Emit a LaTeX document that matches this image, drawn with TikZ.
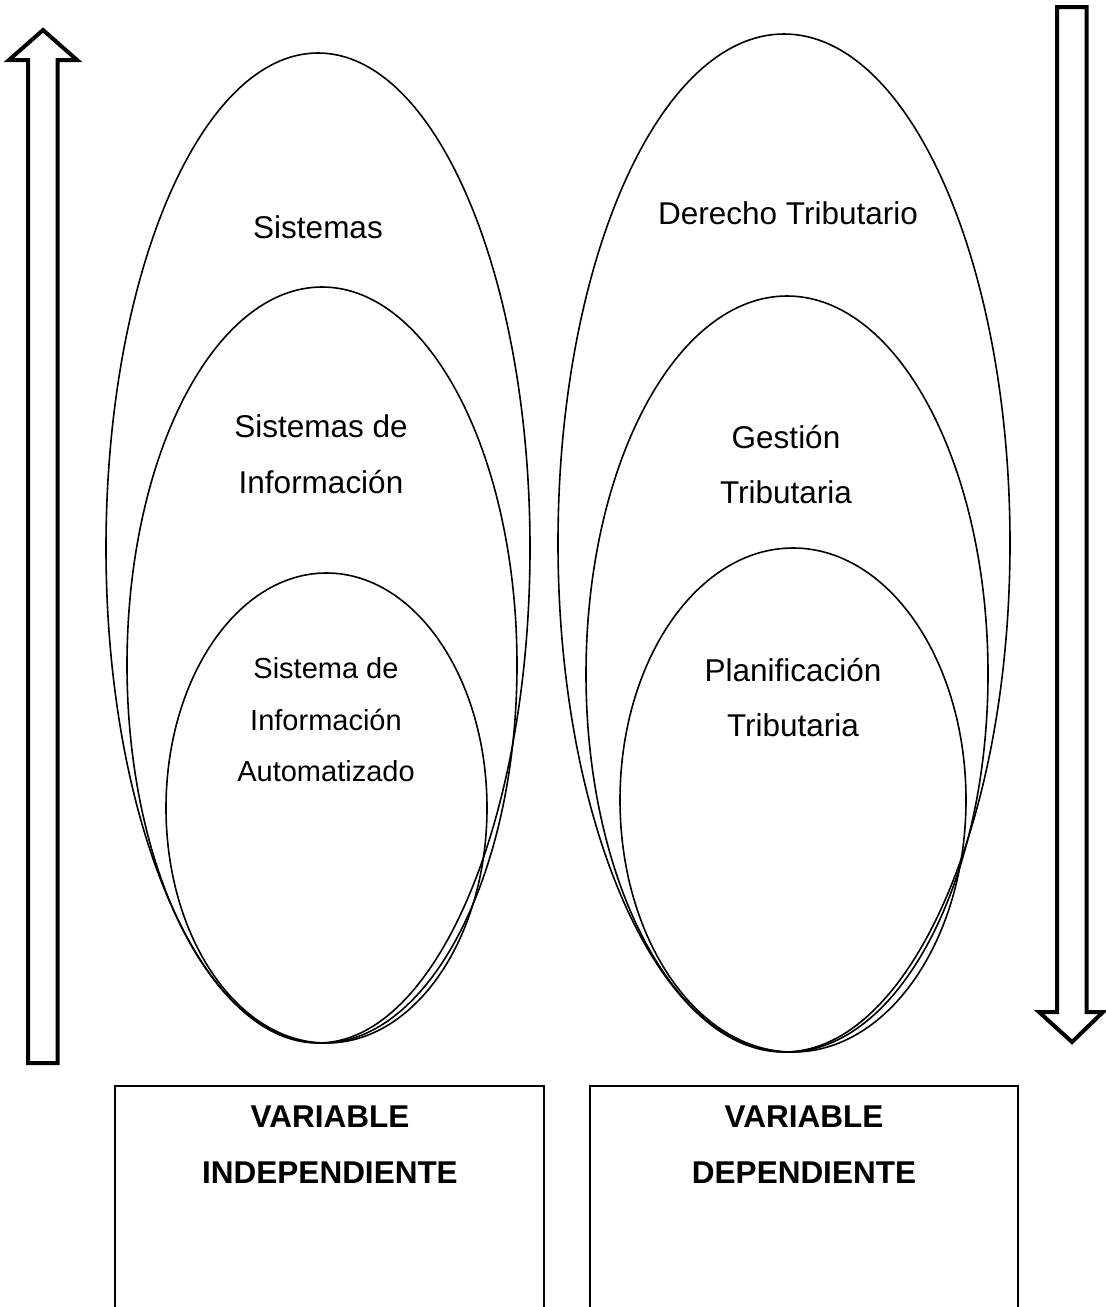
\documentclass[tikz,border=0pt]{standalone}
\usepackage{fontspec}
\setmainfont{Liberation Sans}
\usetikzlibrary{shapes.geometric}
\begin{document}
\begin{tikzpicture}[x=1pt,y=-1pt,
  oval/.style={draw,ellipse,line width=1.6pt,inner sep=0pt,outer sep=0pt},
  lbl/.style={anchor=base,inner sep=0pt,font=\fontsize{31.5}{38}\selectfont},
  lblsmall/.style={anchor=base,inner sep=0pt,font=\fontsize{29}{35}\selectfont},
  varlbl/.style={anchor=base,inner sep=0pt,font=\fontsize{31.5}{38}\selectfont\bfseries},
  hollowarrow/.style={draw,line width=4pt,line join=miter,fill=white},
  frame/.style={draw,line width=1.6pt}]
\useasboundingbox (0,0) rectangle (1106,1307);

% left column: nested ovals
\node[oval,minimum width=424pt,minimum height=990pt] (sistemas) at (318,548) {};
\node[oval,minimum width=390pt,minimum height=756pt] (sisinfo) at (322,665) {};
\node[oval,minimum width=321pt,minimum height=470pt] (sisauto) at (326.5,808) {};

\node[lbl] (t1) at (318,238) {Sistemas};
\node[lbl] (t2a) at (321,437) {Sistemas de};
\node[lbl] (t2b) at (321,493) {Información};
\node[lblsmall] (t3a) at (326,678) {Sistema de};
\node[lblsmall] (t3b) at (326,730) {Información};
\node[lblsmall] (t3c) at (326,781) {Automatizado};

% right column: nested ovals
\node[oval,minimum width=452pt,minimum height=1018pt] (derecho) at (784,543) {};
\node[oval,minimum width=402pt,minimum height=756pt] (gestion) at (787,674) {};
\node[oval,minimum width=346pt,minimum height=504pt] (planif) at (793,800) {};

\node[lbl] (u1) at (788,224) {Derecho Tributario};
\node[lbl] (u2a) at (786,448) {Gestión};
\node[lbl] (u2b) at (786,503) {Tributaria};
\node[lbl] (u3a) at (793,681) {Planificación};
\node[lbl] (u3b) at (793,736) {Tributaria};

% hollow arrows
\draw[hollowarrow] (28,1063) -- (28,60) -- (9,60) -- (43,30) -- (77,60)
  -- (57.5,60) -- (57.5,1063) -- cycle;
\draw[hollowarrow] (1057,7) -- (1057,1012) -- (1039,1012) -- (1072,1042)
  -- (1103,1012) -- (1086.5,1012) -- (1086.5,7) -- cycle;

% variable boxes (open at the bottom edge of the page)
\draw[frame] (115,1320) -- (115,1086) -- (544,1086) -- (544,1320);
\draw[frame] (590,1320) -- (590,1086) -- (1018,1086) -- (1018,1320);

\node[varlbl] (v1a) at (330,1127) {VARIABLE};
\node[varlbl] (v1b) at (330,1183) {INDEPENDIENTE};
\node[varlbl] (v2a) at (804,1127) {VARIABLE};
\node[varlbl] (v2b) at (804,1183) {DEPENDIENTE};
\end{tikzpicture}
\end{document}
